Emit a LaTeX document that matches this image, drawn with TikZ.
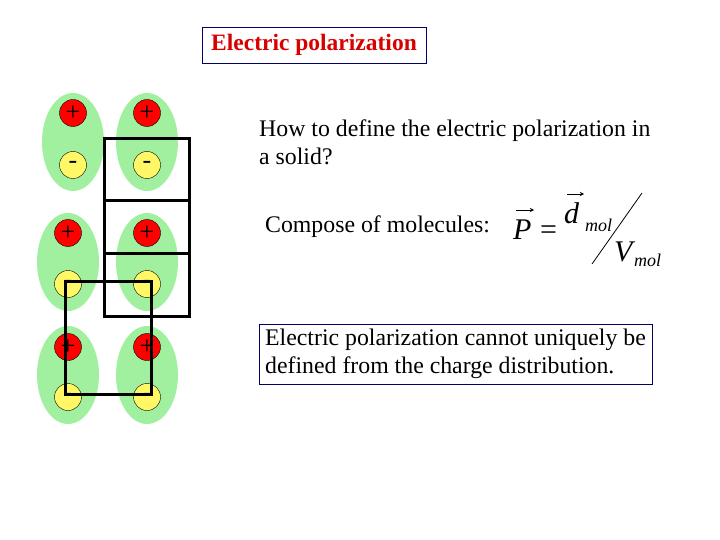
\documentclass[tikz,border=0pt]{standalone}
\usepackage{fontspec}
\setmainfont{Liberation Serif}
\begin{document}
\begin{tikzpicture}[x=1pt,y=-1pt,
  poscharge/.style={circle, fill=red, draw=black, minimum size=27pt, inner sep=0pt, font=\fontsize{26}{26}\selectfont},
  negcharge/.style={circle, fill=yellow!60, draw=black, minimum size=27pt, inner sep=0pt, font=\fontsize{26}{26}\selectfont},
  cell/.style={draw=black, line width=3pt},
  txt/.style={font=\fontsize{23.8}{28}\selectfont, align=left, anchor=north west, inner sep=0pt},
  fml/.style={font=\fontsize{30}{30}\selectfont\itshape, inner sep=0pt, anchor=base west},
  sub/.style={font=\fontsize{18}{18}\selectfont\itshape, inner sep=0pt, anchor=base west},
  vecarrow/.style={-stealth, line width=0.9pt}]
\useasboundingbox (0,0) rectangle (720,540);
\definecolor{molgreen}{RGB}{160,240,160}
\foreach \x/\y in {73/142,68/262,68/375,147/142,147/262,147/375}{
  \fill[molgreen] (\x,\y) ellipse [x radius=31, y radius=49];
}
\foreach \x/\yp/\yn [count=\i] in {73/113/165,68/233/284,68/347/397,147/113/165,147/233/284,147/347/397}{
  \node[poscharge] (p\i) at (\x,\yp) {+};
  \node[negcharge] (n\i) at (\x,\yn) {-};
}
\draw[cell] (104,139) rectangle (189,316);
\draw[cell] (104,201) -- (189,201);
\draw[cell] (104,253) -- (189,253);
\draw[cell] (65,281) rectangle (151,394);
\node[draw=blue!40!black, fill=white, minimum width=224pt, minimum height=36pt, text=red!85!black, font=\fontsize{23.5}{24}\selectfont\bfseries] (title) at (314,45) {Electric polarization};
\node[txt] (q) at (259,120) {How to define the electric polarization in\\a solid?};
\node[txt, anchor=west] (c) at (265,227) {Compose of molecules:};
\node[fml] (P) at (513,240) {P};
\node[font=\fontsize{30}{30}\selectfont, inner sep=0pt, anchor=base west] (eq) at (540,240) {=};
\node[fml] (d) at (564,224) {d};
\node[sub] (dm) at (585,232) {mol};
\node[fml] (V) at (614,261) {V};
\node[sub] (Vm) at (634,266) {mol};
\coordinate (pa1) at (516,210); \coordinate (pa2) at (534,210);
\coordinate (da1) at (567,194); \coordinate (da2) at (584,194);
\draw[vecarrow] (pa1) -- (pa2);
\draw[vecarrow] (da1) -- (da2);
\coordinate (s1) at (642,193);
\coordinate (s2) at (592,264);
\draw[line width=0.8pt] (s1) -- (s2);
\node[txt, draw=blue!40!black, inner xsep=6pt, inner ysep=5pt, anchor=north west] (b) at (259,324) {Electric polarization cannot uniquely be\\defined from the charge distribution.};
\end{tikzpicture}
\end{document}
